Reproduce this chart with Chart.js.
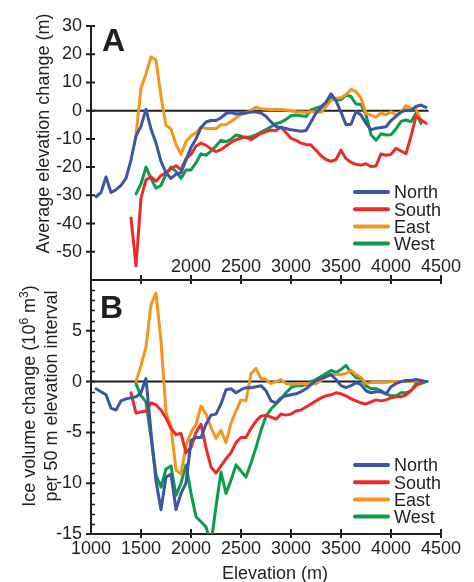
<!DOCTYPE html>
<html lang="en">
<head>
  <meta charset="UTF-8">
  <title>Elevation change by aspect</title>
  <script src="https://cdn.jsdelivr.net/npm/chart.js"></script>
  <style>
    body {
      margin: 0;
      background: #ffffff;
    }
    .wrap {
      position: relative;
      width: 474px;
      height: 582px;
    }
    #chart-a, #chart-b {
      position: absolute;
      left: 0;
    }
    #chart-a { top: 0; }
    #chart-b { top: 272px; }
  </style>
</head>
<body>
  <div class="wrap">
    <canvas id="chart-a" width="474" height="290"></canvas>
    <canvas id="chart-b" width="474" height="310"></canvas>
  </div>

  <script>
    // elevation bins (m)
    const elevation = [
      1050, 1100, 1150, 1200, 1250, 1300, 1350, 1400, 1450, 1500,
      1550, 1600, 1650, 1700, 1750, 1800, 1850, 1900, 1950, 2000,
      2050, 2100, 2150, 2200, 2250, 2300, 2350, 2400, 2450, 2500,
      2550, 2600, 2650, 2700, 2750, 2800, 2850, 2900, 2950, 3000,
      3050, 3100, 3150, 3200, 3250, 3300, 3350, 3400, 3450, 3500,
      3550, 3600, 3650, 3700, 3750, 3800, 3850, 3900, 3950, 4000,
      4050, 4100, 4150, 4200, 4250, 4300, 4350
    ];

    const seriesNames = ['North', 'South', 'East', 'West'];
    const seriesColors = ['#3b56a6', '#ed2a27', '#f7941d', '#0b9b4a'];

    // A: average elevation change (m)
    const northA = [
      -30.5, -29, -23.5, -29, -28, -26.5, -24, -17.5, -9, -5.5,
      0.5, -6.5, -11.5, -18, -22, -24, -22.5, -22, -17.5, -13,
      -10, -6, -4, -3.5, -3.5, -2.5, -1, -0.7, -1.2, -1,
      -0.8, -0.5, -0.5, -0.8, -2, -4, -5.6, -6, -6.3, -6.8,
      -7, -7.3, -7, -4, -0.8, 1, 3, 6, 3.5, -0.5,
      -5, -4.8, -0.3, -1.5, -4.5, -6.8, -6.2, -6, -5.7, -3.5,
      -2, -0.5, 0.2, 0, 1.5, 2, 1.2
    ];
    const southA = [
      null, null, null, null, null, null, null, -38, -55, -31,
      -24.5, -23.5, -25, -23, -22, -20.5, -19.5, -21, -17, -15.5,
      -12.5, -11.5, -12.3, -13.5, -14.5, -13.8, -12.5, -11.3, -10.3, -9.7,
      -9.3, -10.3, -9.2, -8, -7.4, -6.9, -7, -5.8, -7.8, -9.8,
      -10.5, -11.5, -12, -12.2, -14, -16, -17.3, -18, -17.3, -14,
      -17, -18.3, -19, -19.3, -18.8, -19.8, -19.6, -15.3, -15.8, -15.5,
      -13.3, -14.3, -15.2, -9, -2, -3.3, -4.5
    ];
    const eastA = [
      null, null, null, null, null, null, null, null, -8.6, 8,
      13, 19, 18, 5, -5.2, -6.5, -12, -15.5, -11, -9,
      -7.8, -5.8, -6.3, -6.3, -6.3, -5, -5, -3.8, -2.6, -1.4,
      -0.8, 0.2, 1.2, 0.7, 0.5, 0.3, 0.5, 0.4, 0.2, 0,
      -0.4, -0.5, -0.6, -0.4, -0.5, -0.6, 1.5, 3.6, 4.4, 4.6,
      5.7, 7.5, 6.8, 4.5, -1, -1.6, -2.4, -0.8, -1.5, -0.4,
      -1.5, -0.4, 1.7, 0.8, 0.6, -3.5
    ];
    const westA = [
      null, null, null, null, null, null, null, null, -29.5, -26,
      -20, -24, -27.5, -26.5, -22.5, -20, -21.5, -24, -21, -21,
      -18.5, -15.3, -15.8, -14.3, -12.5, -10.5, -11, -10.2, -8.6, -9,
      -9.6, -9.2, -8.6, -7.6, -6.7, -5.7, -4.6, -4.1, -3.1, -1.8,
      -1.5, -1.8, -2.1, 0.3, 0.9, 1.5, 2.8, 4.4, 3.8, 3.9,
      5.5, 5, 2.4, 2.2, -1.5, -8.5, -10.5, -8.2, -8.6, -8.5,
      -6.5, -3.8, -3.3, -3.9, -0.9, -4.5
    ];

    // B: ice volume change (10^6 m^3) per 50 m elevation interval
    const northB = [
      -0.7, -1, -1.3, -2.6, -2.8, -1.9, -1.7, -1.6, -1.5, -1.1,
      0.3, -5, -9.8, -12.6, -9.4, -9.1, -12.6, -11, -10, -5.8,
      -5.5, -5.5, -4.2, -3.3, -3.2, -2.2, -0.8, -0.7, -1.1, -0.8,
      -0.6, -0.6, -0.5, -0.4, -0.9, -1.9, -2.1, -1.6, -1.4, -1.3,
      -1.2, -1, -0.7, -0.3, 0.1, 0.3, 0.5, 0.7, 0.2, -0.4,
      -0.6, -0.4, -0.1, -0.3, -0.9, -1.1, -1, -1, -1.2, -0.5,
      -0.2, 0, 0.1, 0.1, 0.2, 0.1, 0
    ];
    const southB = [
      null, null, null, null, null, null, null, -1.1, -3.1, -3,
      -2.9, -2.1, -2.3, -2.8, -3.6, -4.6, -5.2, -5.1, -7, -6.5,
      -5, -4.2, -6.5, -8.4, -9, -8.3, -7.6, -7, -6, -5.5,
      -5.5, -4.6, -3.9, -3.4, -3.3, -3.5, -3.7, -3.2, -3.3, -3.2,
      -2.9, -2.8, -2.5, -2.2, -1.9, -1.6, -1.4, -1.3, -1.1, -1.2,
      -1.4, -1.7, -1.9, -2.1, -2.2, -2, -1.8, -1.9, -1.8, -1.6,
      -1.5, -1.5, -1.3, -0.9, -0.4, -0.1
    ];
    const eastB = [
      null, null, null, null, null, null, null, null, 0, 1.6,
      3.4, 7.6, 8.7, 4, -3, -4.5, -8.7, -9.1, -6.3, -5,
      -4.2, -2.4, -3.2, -4.5, -5.6, -4.8, -6, -4.1, -2.9, -1.8,
      -1.9, 0.8, 1.3, 0.3, 0.2, -0.2, 0, 0.2, -0.2, -0.3,
      -0.2, -0.2, -0.2, -0.2, -0.2, 0.1, 0.5, 0.7, 0.7, 0.7,
      0.8, 1.1, 0.7, 0.4, -0.2, -0.1, -0.1, -0.1, -0.1, 0,
      0, 0, 0.1, 0, 0.1, 0
    ];
    const westB = [
      null, null, null, null, null, null, null, null, -0.2, -1.4,
      -2, -5.5, -9.2, -10.4, -8.6, -8.3, -11.2, -10, -8.2, -11,
      -13.3, -13.8, -14.3, -16, -12.3, -8.9, -11, -9.7, -8.2, -8.8,
      -9.4, -8, -6.5, -4.8, -3.4, -2.7, -2.2, -1.7, -1.1, -0.6,
      -0.4, -0.4, -0.3, 0, 0.2, 0.5, 0.8, 1.1, 0.9, 1.2,
      1.6, 0.9, 0.4, 0.3, -0.4, -0.7, -0.7, -0.9, -1.2, -1.4,
      -1.4, -1.1, -1.1, -0.9, -0.2, -0.2, 0
    ];

    // zero reference line extent
    const zeroLineX = [1000, 4375];

    // tick labels that are printed
    const xLabelsA = [2000, 2500, 3000, 3500, 4000, 4500];
    const xLabelsB = [1000, 1500, 2000, 2500, 3000, 3500, 4000, 4500];
    const yLabelsA = [30, 20, 10, 0, -10, -20, -30, -40, -50];
    const yLabelsB = [5, 0, -5, -10, -15];

    const FONT = '"Liberation Sans", Arial, Helvetica, sans-serif';
    const INK = '#231f20';

    function toPoints(values) {
      return elevation
        .map((e, i) => ({ x: e, y: values[i] }))
        .filter(p => p.y !== null && p.y !== undefined);
    }

    function buildDatasets(seriesList) {
      const sets = seriesList.map((values, i) => ({
        label: seriesNames[i],
        data: toPoints(values),
        borderColor: seriesColors[i],
        borderWidth: 3,
        pointRadius: 0,
        borderJoinStyle: 'round',
        borderCapStyle: 'round',
        tension: 0,
        fill: false
      }));
      sets.push({
        label: '',
        data: zeroLineX.map(x => ({ x: x, y: 0 })),
        borderColor: INK,
        borderWidth: 2,
        pointRadius: 0,
        fill: false
      });
      return sets;
    }

    // crossing tick marks drawn from the scales
    const tickMarks = {
      id: 'tickMarks',
      afterDraw(chart, args, opts) {
        const { ctx } = chart;
        const xs = chart.scales.x;
        const ys = chart.scales.y;
        ctx.save();
        ctx.strokeStyle = INK;
        ctx.lineWidth = 2;
        ctx.beginPath();
        xs.ticks.forEach(t => {
          if (t.value === xs.min) return;
          const px = xs.getPixelForValue(t.value);
          ctx.moveTo(px, ys.bottom - 5);
          ctx.lineTo(px, ys.bottom + 4);
        });
        ys.ticks.forEach(t => {
          if (opts.skipY && opts.skipY.includes(t.value)) return;
          const py = ys.getPixelForValue(t.value);
          ctx.moveTo(xs.left - 5, py);
          ctx.lineTo(xs.left + 4, py);
        });
        ctx.stroke();
        if (opts.minorStep) {
          ctx.lineWidth = 1.5;
          ctx.beginPath();
          for (let v = ys.min + opts.minorStep; v < ys.max; v += opts.minorStep) {
            if (Math.abs(v % opts.majorStep) < 1e-6) continue;
            const py = Math.round(ys.getPixelForValue(v)) + 0.5;
            ctx.moveTo(xs.left - 1, py);
            ctx.lineTo(xs.left + 4, py);
          }
          ctx.stroke();
        }
        // x labels printed inside the plot, just above the axis
        if (opts.innerXLabels) {
          ctx.fillStyle = INK;
          ctx.font = '18px ' + FONT;
          ctx.textAlign = 'center';
          ctx.textBaseline = 'middle';
          opts.innerXLabels.forEach(v => {
            ctx.fillText(String(v), xs.getPixelForValue(v), ys.bottom - 13);
          });
        }
        ctx.restore();
      }
    };

    // legend, panel letter and axis titles
    const decorations = {
      id: 'decorations',
      afterDraw(chart, args, opts) {
        const { ctx } = chart;
        ctx.save();
        ctx.fillStyle = INK;

        // panel letter
        ctx.font = 'bold 32px ' + FONT;
        ctx.textAlign = 'left';
        ctx.textBaseline = 'alphabetic';
        ctx.fillText(opts.letter.text, opts.letter.x, opts.letter.y);

        // legend
        const lg = opts.legend;
        ctx.font = '18px ' + FONT;
        let row = 0;
        chart.data.datasets.forEach(ds => {
          if (!ds.label) return;
          const y = lg.y + row * lg.row;
          ctx.strokeStyle = ds.borderColor;
          ctx.lineWidth = 4;
          ctx.lineCap = 'round';
          ctx.beginPath();
          ctx.moveTo(lg.x, y);
          ctx.lineTo(lg.x + lg.len, y);
          ctx.stroke();
          ctx.fillText(ds.label, lg.x + lg.len + 6, y + 6.4);
          row++;
        });

        // rotated y titles, made of runs of normal and superscript text
        opts.yTitle.lines.forEach((segs, li) => {
          ctx.save();
          ctx.translate(opts.yTitle.baselines[li], opts.yTitle.cy);
          ctx.rotate(-Math.PI / 2);
          let total = 0;
          segs.forEach(([t, sup]) => {
            ctx.font = (sup ? 12 : 18) + 'px ' + FONT;
            total += ctx.measureText(t).width;
          });
          let x = -total / 2;
          ctx.textAlign = 'left';
          segs.forEach(([t, sup]) => {
            ctx.font = (sup ? 12 : 18) + 'px ' + FONT;
            ctx.fillText(t, x, sup ? -7 : 0);
            x += ctx.measureText(t).width;
          });
          ctx.restore();
        });

        if (opts.xTitle) {
          ctx.font = '18px ' + FONT;
          ctx.textAlign = 'center';
          ctx.fillText(opts.xTitle.text, opts.xTitle.x, opts.xTitle.y);
        }
        ctx.restore();
      }
    };

    function axisOptions(cfg) {
      return {
        x: {
          type: 'linear',
          min: 1000,
          max: 4500,
          grid: { display: false, drawTicks: false },
          border: { display: true, color: INK, width: 2 },
          ticks: {
            display: cfg.xLabels.length > 0,
            stepSize: 500,
            padding: 4,
            autoSkip: false,
            maxRotation: 0,
            color: INK,
            font: { family: FONT, size: 18 },
            callback: v => cfg.xLabels.includes(v) ? String(v) : ''
          },
          afterFit: s => { s.height = cfg.xHeight; s.paddingLeft = 0; s.paddingRight = 0; }
        },
        y: {
          min: cfg.yMin,
          max: cfg.yMax,
          grid: { display: false, drawTicks: false },
          border: { display: true, color: INK, width: 2 },
          ticks: {
            stepSize: cfg.yStep,
            padding: 9,
            color: INK,
            font: { family: FONT, size: 18 },
            callback: v => cfg.yLabels.includes(v) ? String(v) : ''
          },
          afterFit: s => { s.width = 91; s.paddingTop = 0; s.paddingBottom = 0; }
        }
      };
    }

    new Chart(document.getElementById('chart-a'), {
      type: 'line',
      data: { datasets: buildDatasets([northA, southA, eastA, westA]) },
      options: {
        responsive: false,
        animation: false,
        devicePixelRatio: 1,
        layout: { padding: { top: 26, right: 33, bottom: 0, left: 0 } },
        scales: axisOptions({
          xHeight: 10, xLabels: [],
          yMin: -60, yMax: 30, yStep: 10, yLabels: yLabelsA
        }),
        plugins: {
          legend: { display: false },
          tooltip: { enabled: false },
          tickMarks: { skipY: [-60], innerXLabels: xLabelsA },
          decorations: {
            letter: { text: 'A', x: 102, y: 51 },
            legend: { x: 355, y: 192, row: 17.2, len: 33 },
            yTitle: {
              lines: [[['Average elevation change (m)', 0]]],
              baselines: [49],
              cy: 133.5
            }
          }
        }
      },
      plugins: [tickMarks, decorations]
    });

    new Chart(document.getElementById('chart-b'), {
      type: 'line',
      data: { datasets: buildDatasets([northB, southB, eastB, westB]) },
      options: {
        responsive: false,
        animation: false,
        devicePixelRatio: 1,
        layout: { padding: { top: 8, right: 33, bottom: 0, left: 0 } },
        scales: axisOptions({
          xHeight: 48, xLabels: xLabelsB,
          yMin: -15, yMax: 10, yStep: 5, yLabels: yLabelsB
        }),
        plugins: {
          legend: { display: false },
          tooltip: { enabled: false },
          tickMarks: { skipY: [10], minorStep: 1, majorStep: 5 },
          decorations: {
            letter: { text: 'B', x: 100, y: 45.5 },
            legend: { x: 355, y: 193, row: 17.2, len: 33 },
            yTitle: {
              lines: [
                [['Ice volume change (10', 0], ['6', 1], [' m', 0], ['3', 1], [')', 0]],
                [['per 50 m elevation interval', 0]]
              ],
              baselines: [35, 57],
              cy: 124
            },
            xTitle: { text: 'Elevation (m)', x: 275, y: 307 }
          }
        }
      },
      plugins: [tickMarks, decorations]
    });
  </script>
</body>
</html>
